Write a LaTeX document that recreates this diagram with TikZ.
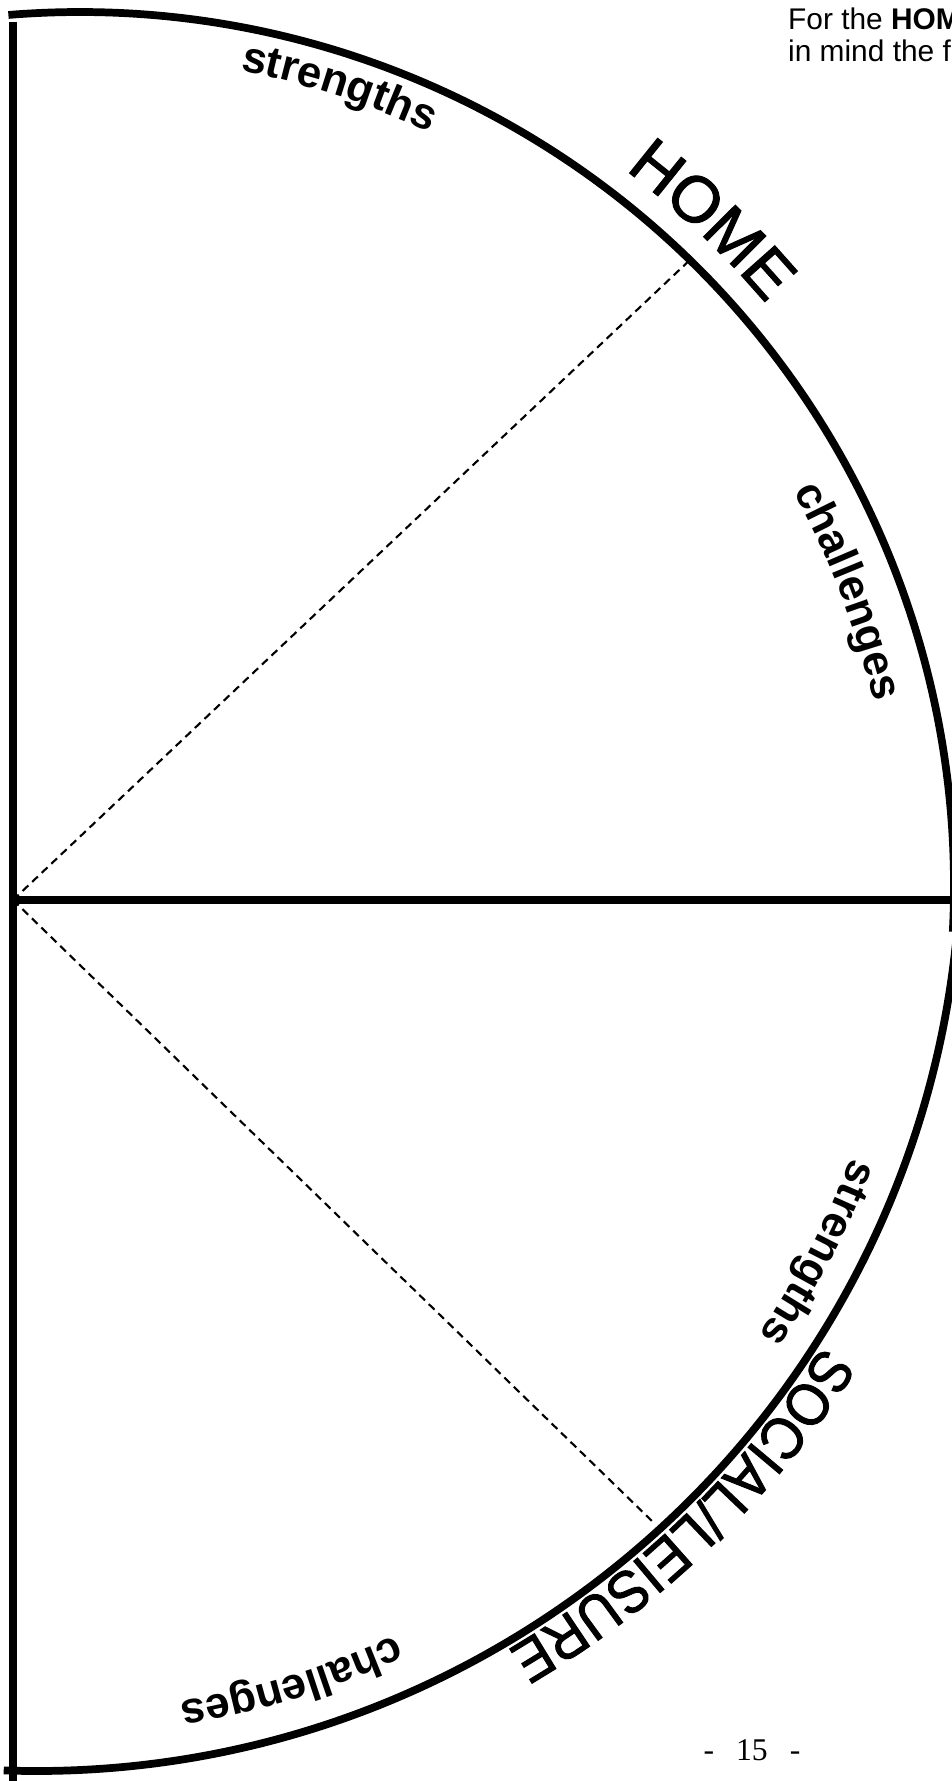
\documentclass[tikz,border=0pt]{standalone}
\usepackage{fontspec}
\setmainfont{Liberation Sans}
\newfontfamily\pagefont{Liberation Serif}
\newfontfamily\heavyfont{Liberation Sans}[FakeBold=1.6]
\newfontfamily\narrowfont{Liberation Sans}[FakeBold=1.6, FakeStretch=0.9]
\usetikzlibrary{decorations.text}

\newcommand\wordfont{\fontsize{25pt}{25pt}\selectfont\bfseries}
\newcommand\homefont{\heavyfont\fontsize{37pt}{37pt}\selectfont}
\newcommand\socialfont{\narrowfont\fontsize{34pt}{34pt}\selectfont}

\tikzset{
    rim/.style={line width=4.4pt},
    split/.style={line width=1.2pt, dash pattern=on 4.5pt off 3pt},
    along/.style={decorate, decoration={text along path, text align=center, text={#1}}}
}

\begin{document}
\begin{tikzpicture}[x=0.02cm, y=0.02cm]
    \useasboundingbox (0,0) rectangle (952,1781);
    \clip (0,0) rectangle (952,1781);
    \coordinate (O) at (13,881);
    \coordinate (topc) at (80,895);
    \coordinate (botc) at (36,935);
    \coordinate (homeend) at (692,1523);
    \coordinate (socialend) at (653,259);
    \coordinate (axisend) at (970,881);

    \draw[rim] (13,1759) -- (13,-5);
    \draw[rim] (O) -- (axisend);
    \draw[rim, shift={(topc)}] (94.7:874) arc[start angle=94.7, end angle=-3, radius=874];
    \draw[rim, shift={(botc)}] (-2:925) arc[start angle=-2, end angle=-92, radius=925];
    \draw[split] (O) -- (homeend);
    \draw[split] (O) -- (socialend);

    \path[along={|\wordfont|strengths}, shift={(topc)}] (87:831) arc[start angle=87, end angle=57, radius=831];
    \path[along={|\homefont|HOME}, shift={(topc)}] (66.5:900) arc[start angle=66.5, end angle=26.5, radius=900];
    \path[along={|\wordfont|challenges}, shift={(topc)}] (36:815) arc[start angle=36, end angle=6, radius=815];
    \path[along={|\wordfont|strengths}, shift={(botc)}] (-12.5:873) arc[start angle=-12.5, end angle=-42.5, radius=873];
    \path[along={|\socialfont|SOCIAL/LEISURE}, shift={(botc)}] (-21:932) arc[start angle=-21, end angle=-71, radius=932];
    \path[along={|\wordfont|challenges}, shift={(botc)}] (-58:868) arc[start angle=-58, end angle=-88, radius=868];

    \node[anchor=base west, font=\fontsize{17pt}{17pt}\selectfont] (note1) at (782,1751) {For the \textbf{HOM}};
    \node[anchor=base west, font=\fontsize{17pt}{17pt}\selectfont] (note2) at (782,1719) {in mind the f};
    \node[font=\pagefont\fontsize{18pt}{18pt}\selectfont] (pagenum) at (752,31) {-\hspace{0.7em}15\hspace{0.7em}-};
\end{tikzpicture}
\end{document}
